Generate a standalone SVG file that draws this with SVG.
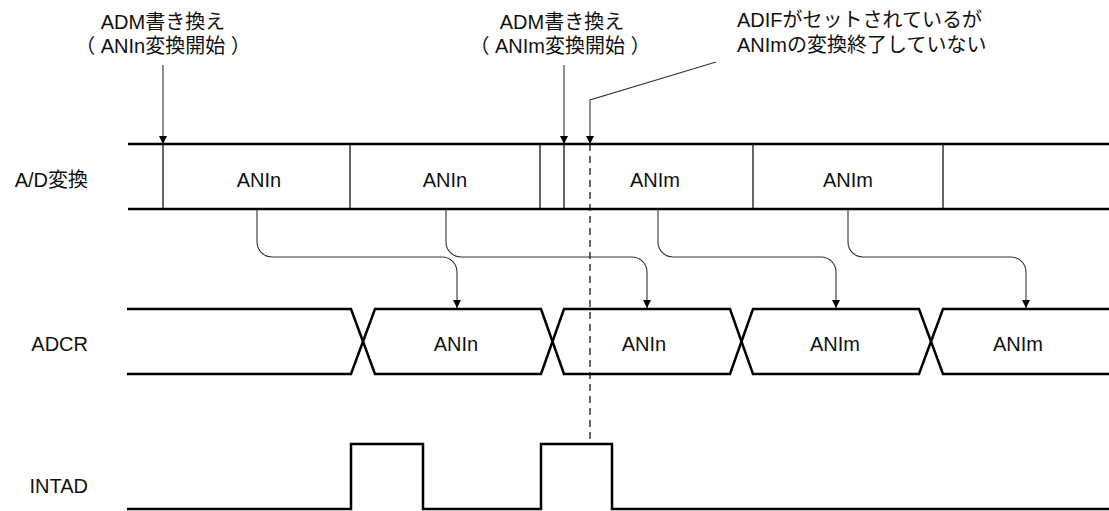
<svg xmlns="http://www.w3.org/2000/svg" width="1109" height="511" viewBox="0 0 1109 511">
<style>
text{font-family:"Liberation Sans","Noto Sans CJK JP",sans-serif;font-size:20px;fill:#111}
.m{text-anchor:middle}
.e{text-anchor:end}
.thick{stroke:#000;stroke-width:2.5;fill:none}
.thin{stroke:#000;stroke-width:1.2;fill:none}
.conn{stroke:#333;stroke-width:1.1;fill:none}
.dash{stroke:#000;stroke-width:1.2;stroke-dasharray:7,5;fill:none}
</style>
<defs>
<marker id="ah" viewBox="0 0 8 12" refX="8" refY="6" markerWidth="8" markerHeight="12" markerUnits="userSpaceOnUse" orient="auto">
<path d="M0,2 L8,6 L0,10 Z" fill="#000"/>
</marker>
</defs>
<rect width="1109" height="511" fill="#fff"/>
<g id="labels">
<text class="e" x="88" y="187">A/D変換</text>
<text class="e" x="88" y="351">ADCR</text>
<text class="e" x="88" y="493">INTAD</text>
</g>
<g id="note-adm1">
<text class="m" x="163" y="29">ADM書き換え</text>
<text class="m" x="163" y="53">（ ANIn変換開始 ）</text>
</g>
<g id="note-adm2">
<text class="m" x="562" y="29">ADM書き換え</text>
<text class="m" x="560" y="53">（ ANIm変換開始 ）</text>
</g>
<g id="note-adif">
<text x="737" y="27">ADIFがセットされているが</text>
<text x="737" y="52">ANImの変換終了していない</text>
</g>
<g id="ad-row">
<line class="thick" x1="128" y1="144" x2="1109" y2="144"/>
<line class="thick" x1="128" y1="209" x2="1109" y2="209"/>
<line class="thin" x1="350" y1="144" x2="350" y2="209"/>
<line class="thin" x1="540" y1="144" x2="540" y2="209"/>
<line class="thin" x1="753" y1="144" x2="753" y2="209"/>
<line class="thin" x1="943" y1="144" x2="943" y2="209"/>
<line class="thin" x1="163" y1="144" x2="163" y2="209"/>
<line class="thin" x1="564" y1="144" x2="564" y2="209"/>
<text class="m" x="259" y="187">ANIn</text>
<text class="m" x="445" y="187">ANIn</text>
<text class="m" x="655" y="187">ANIm</text>
<text class="m" x="848" y="187">ANIm</text>
</g>
<g id="adcr-row">
<path class="thick" d="M127,309 H351 L375,374 H541 L564,309 H730 L753,374 H919 L943,309 H1109"/>
<path class="thick" d="M127,374 H351 L375,309 H541 L564,374 H730 L753,309 H919 L943,374 H1109"/>
<text class="m" x="456" y="351">ANIn</text>
<text class="m" x="644" y="351">ANIn</text>
<text class="m" x="835" y="351">ANIm</text>
<text class="m" x="1018" y="351">ANIm</text>
</g>
<g id="intad-row">
<path class="thick" d="M127,509 H351 V444 H423 V509 H541 V444 H612 V509 H1109"/>
</g>
<g id="connectors">
<line class="conn" x1="163" y1="65" x2="163" y2="144" marker-end="url(#ah)"/>
<line class="conn" x1="564" y1="65" x2="564" y2="144" marker-end="url(#ah)"/>
<path class="conn" d="M716,62 L590,100 V144" marker-end="url(#ah)"/>
<line class="dash" x1="590" y1="144" x2="590" y2="444"/>
<path class="conn" d="M257,209 V242 A15,15 0 0 0 272,257 H442 A15,15 0 0 1 457,272 V308" marker-end="url(#ah)"/>
<path class="conn" d="M446,209 V242 A15,15 0 0 0 461,257 H632 A15,15 0 0 1 647,272 V308" marker-end="url(#ah)"/>
<path class="conn" d="M658,209 V242 A15,15 0 0 0 673,257 H821 A15,15 0 0 1 836,272 V308" marker-end="url(#ah)"/>
<path class="conn" d="M848,209 V242 A15,15 0 0 0 863,257 H1011 A15,15 0 0 1 1026,272 V308" marker-end="url(#ah)"/>
</g>
</svg>
